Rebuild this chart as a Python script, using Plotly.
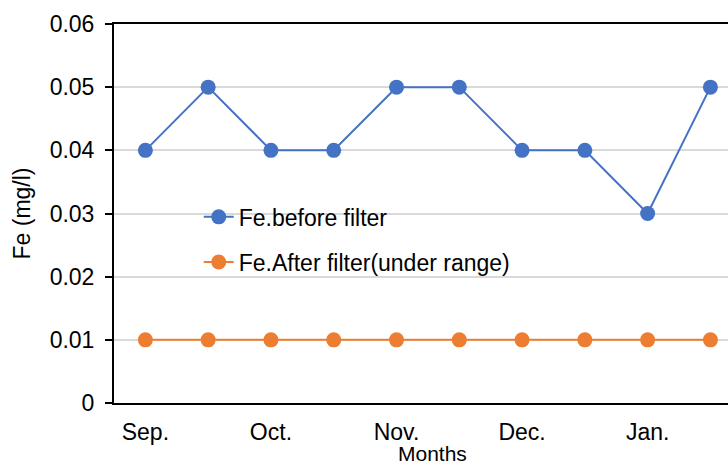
import plotly.graph_objects as go

# ---- data ----
months = ["Sep.", "", "Oct.", "", "Nov.", "", "Dec.", "", "Jan.", ""]
fe_before = [0.04, 0.05, 0.04, 0.04, 0.05, 0.05, 0.04, 0.04, 0.03, 0.05]
fe_after = [0.01, 0.01, 0.01, 0.01, 0.01, 0.01, 0.01, 0.01, 0.01, 0.01]
y_ticks = [0, 0.01, 0.02, 0.03, 0.04, 0.05, 0.06]
y_labels = ["0", "0.01", "0.02", "0.03", "0.04", "0.05", "0.06"]

BLUE = "#4472C4"
ORANGE = "#ED7D31"
FONT = "Liberation Sans, Arial, sans-serif"
FS = 23

x = list(range(len(months)))
label_idx = [i for i, m in enumerate(months) if m]

fig = go.Figure()
fig.add_trace(go.Scatter(
    x=x, y=fe_before, mode="lines+markers", name="Fe.before filter",
    line=dict(color=BLUE, width=2), marker=dict(size=15, color=BLUE),
    legend="legend", showlegend=True,
))
fig.add_trace(go.Scatter(
    x=x, y=fe_after, mode="lines+markers", name="Fe.After filter(under range)",
    line=dict(color=ORANGE, width=2), marker=dict(size=15, color=ORANGE),
    legend="legend2", showlegend=True,
))

legend_style = dict(
    xref="paper", yref="paper", xanchor="left", yanchor="middle",
    bgcolor="rgba(0,0,0,0)", font=dict(family=FONT, size=FS, color="#000"),
    itemwidth=30, borderwidth=0,
)

fig.update_layout(
    width=728, height=466,
    margin=dict(l=114, r=0, t=24, b=63),
    paper_bgcolor="white", plot_bgcolor="white",
    font=dict(family=FONT, size=FS, color="#000"),
    xaxis=dict(
        tickmode="array", tickvals=label_idx,
        ticktext=[months[i] for i in label_idx],
        range=[-0.5, 9.28], showgrid=False, zeroline=False,
        showline=True, linecolor="#000", linewidth=2, mirror=True,
        ticks="", ticklabelstandoff=7, automargin=False,
    ),
    yaxis=dict(
        tickmode="array", tickvals=y_ticks, ticktext=y_labels,
        range=[0, 0.06], showgrid=True, gridcolor="#D9D9D9", gridwidth=1.5,
        zeroline=False, showline=True, linecolor="#000", linewidth=2,
        ticks="outside", ticklen=7, tickcolor="#000", tickwidth=1.5,
        ticklabelstandoff=6, automargin=False,
        title=dict(text="Fe (mg/l)", standoff=13, font=dict(size=FS)),
    ),
    legend=dict(x=0.138, y=0.491, **legend_style),
    legend2=dict(x=0.138, y=0.372, **legend_style),
    annotations=[dict(
        text="Months", xref="paper", yref="paper", x=0.518, y=-0.134,
        xanchor="center", yanchor="middle", showarrow=False,
        font=dict(family=FONT, size=21, color="#000"),
    )],
)

# drop the default page margin so the figure sits at the window's corner
fig.write_html("out.html", config={"displayModeBar": False},
               post_script="document.body.style.margin='0';")
